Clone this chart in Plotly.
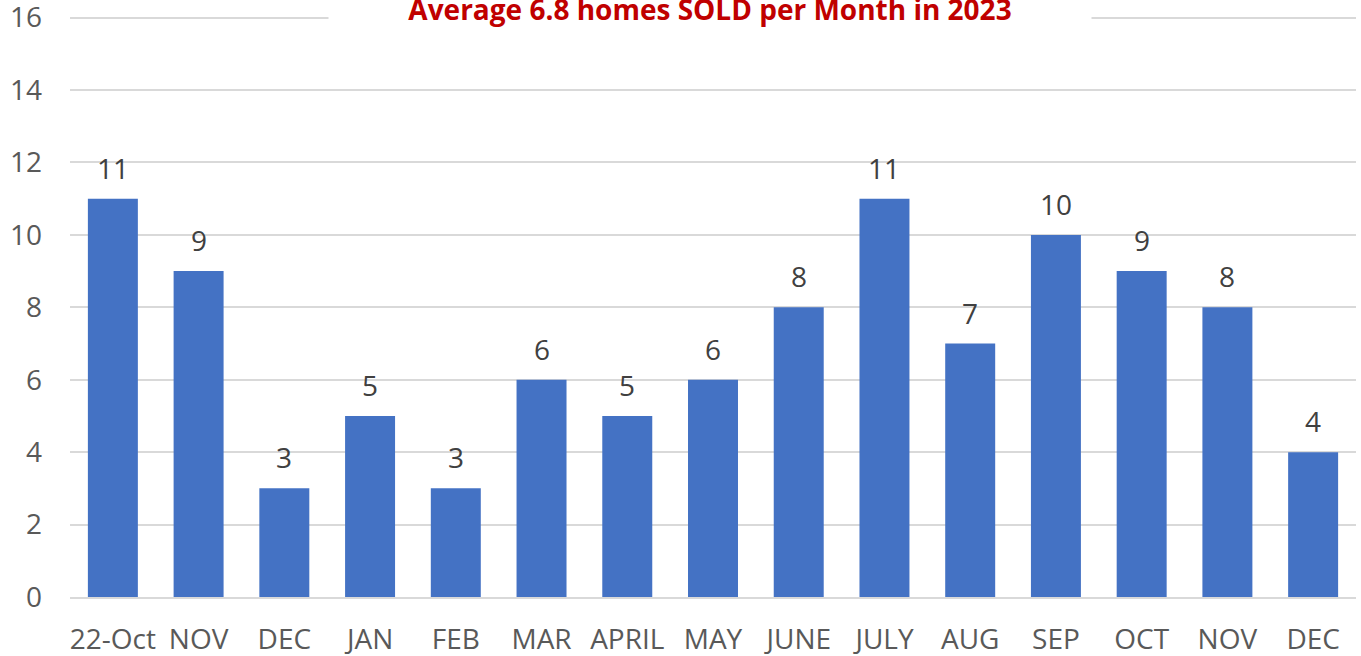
import plotly.graph_objects as go

months = ["22-Oct", "NOV", "DEC", "JAN", "FEB", "MAR", "APRIL", "MAY",
          "JUNE", "JULY", "AUG", "SEP", "OCT", "NOV", "DEC"]
sold = [11, 9, 3, 5, 3, 6, 5, 6, 8, 11, 7, 10, 9, 8, 4]
title_text = "Average 6.8 homes SOLD per Month in 2023"
y_ticks = [0, 2, 4, 6, 8, 10, 12, 14, 16]

xpos = list(range(len(months)))

fig = go.Figure()
fig.add_trace(go.Bar(x=xpos, y=sold, marker=dict(color="#4472C4", line=dict(width=0)),
                     hoverinfo="x+y"))

for xi, v in zip(xpos, sold):
    fig.add_annotation(x=xi, y=v, text=str(v), showarrow=False, yanchor="bottom",
                       yshift=10, font=dict(family="Open Sans", size=28, color="#404040"))

fig.add_annotation(xref="paper", yref="paper", x=0.4977, y=1, text="<b>" + title_text + "</b>",
                   showarrow=False, yanchor="middle", yshift=5, width=760, bgcolor="white",
                   font=dict(family="Open Sans", size=28, color="#C00000"))

fig.update_layout(
    width=1361, height=656,
    margin=dict(l=70, r=5, t=14, b=59, autoexpand=False),
    paper_bgcolor="white", plot_bgcolor="white",
    bargap=0.417, showlegend=False,
)
fig.update_xaxes(tickmode="array", tickvals=xpos, ticktext=months, range=[-0.5, len(months) - 0.5],
                 showgrid=False, showline=True, linecolor="#D9D9D9", linewidth=2, automargin=False,
                 ticklabelstandoff=16, ticklabeloverflow="allow",
                 tickfont=dict(family="Open Sans", size=28, color="#595959"))
fig.update_yaxes(range=[0, 16.1], tickmode="array", tickvals=y_ticks, ticktext=[str(t) for t in y_ticks],
                 showgrid=True, gridcolor="#D9D9D9", gridwidth=1.5,
                 zeroline=False, showline=False, ticklabelstandoff=27, automargin=False,
                 ticklabeloverflow="allow",
                 tickfont=dict(family="Open Sans", size=28, color="#595959"))

fig.write_html("out.html", config={"displayModeBar": False},
               post_script="document.body.style.margin='0';")
